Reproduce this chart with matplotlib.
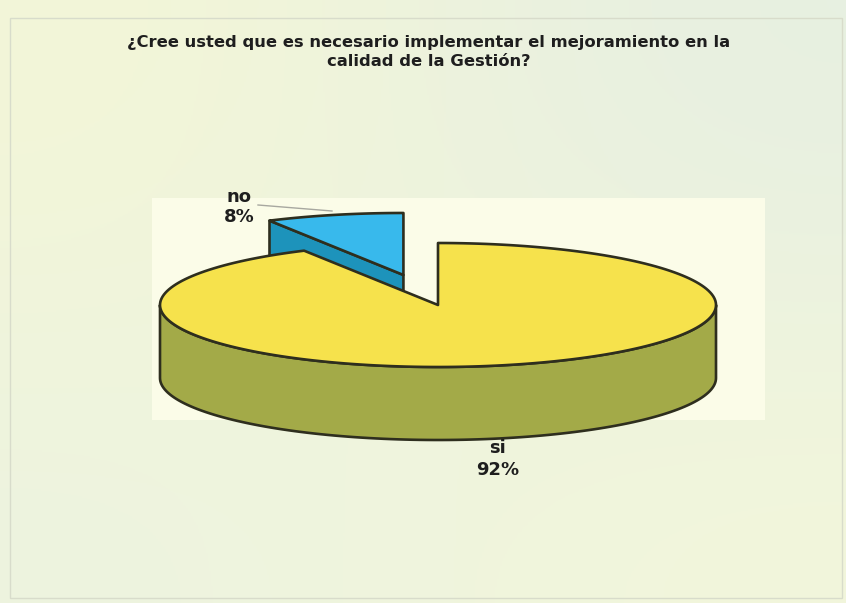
import numpy as np
import matplotlib.pyplot as plt
from matplotlib.patches import Polygon, Rectangle

# ---- DATA ----
labels = ['no', 'si']          # counter-clockwise from 12 o'clock
values = [8, 92]
explode = [0.5, 0.0]
title = ("¿Cree usted que es necesario implementar el mejoramiento en la\n"
         "calidad de la Gestión?")

# ---- STYLE / GEOMETRY (pixels) ----
CX, CY, RX, RY, DEPTH = 438, 305, 278, 62, 73
TOP_COLORS = ['#38b9ec', '#f6e24c']
SIDE_COLORS = ['#1d93bb', '#a3aa48']
EDGE = '#2e2e1e'
LW = 1.9
label_pos = [(239, 207), (498, 459)]

plt.rcParams['font.family'] = ['DejaVu Sans']

fig = plt.figure(figsize=(8.46, 6.03), dpi=100)
ax = fig.add_axes([0, 0, 1, 1])
ax.set_xlim(0, 846)
ax.set_ylim(603, 0)
ax.axis('off')

# background gradient
bg = np.array([[[0.955, 0.965, 0.845], [0.905, 0.94, 0.885]],
               [[0.93, 0.955, 0.875], [0.95, 0.965, 0.86]]])
ax.imshow(bg, extent=[0, 846, 603, 0], interpolation='bicubic', aspect='auto', zorder=0)
ax.add_patch(Rectangle((10, 18), 832, 580, fill=False, edgecolor='#d8dccb', lw=1, zorder=1))

# plot area
ax.add_patch(Rectangle((152, 198), 613, 222, facecolor='#fbfce8', edgecolor='none', zorder=1))


def pt(theta, dx, dy, dz=0.0):
    t = np.radians(theta)
    return CX + dx - RX * np.sin(t), CY + dy - RY * np.cos(t) + dz


# build slices
total = sum(values)
slices = []
start = 0.0
for i, v in enumerate(values):
    span = 360.0 * v / total
    a0, a1 = start, start + span
    mid = np.radians((a0 + a1) / 2)
    dx = -explode[i] * RX * np.sin(mid)
    dy = -explode[i] * RY * np.cos(mid)
    slices.append((i, a0, a1, dx, dy))
    start = a1

# draw back to front
slices.sort(key=lambda s: s[4] - RY * np.cos(np.radians((s[1] + s[2]) / 2)))
z = 2
for i, a0, a1, dx, dy in slices:
    c = (CX + dx, CY + dy)
    # radial faces
    for a, sign in ((a0, -1), (a1, 1)):
        if sign * np.sin(np.radians(a)) > 1e-6:
            p = pt(a, dx, dy)
            face = [c, p, (p[0], p[1] + DEPTH), (c[0], c[1] + DEPTH)]
            ax.add_patch(Polygon(face, closed=True, facecolor=SIDE_COLORS[i],
                                 edgecolor=EDGE, lw=LW, joinstyle='round', zorder=z))
    # outer side (front half only)
    lo, hi = max(a0, 90), min(a1, 270)
    if hi > lo:
        th = np.linspace(lo, hi, 120)
        top = [pt(t, dx, dy) for t in th]
        bot = [pt(t, dx, dy, DEPTH) for t in th[::-1]]
        ax.add_patch(Polygon(top + bot, closed=True, facecolor=SIDE_COLORS[i],
                             edgecolor=EDGE, lw=LW, joinstyle='round', zorder=z))
    # top face
    th = np.linspace(a0, a1, 200)
    poly = [c] + [pt(t, dx, dy) for t in th]
    ax.add_patch(Polygon(poly, closed=True, facecolor=TOP_COLORS[i],
                         edgecolor=EDGE, lw=LW, joinstyle='round', zorder=z + 1))
    z += 2

# labels
spacing = [1.1, 1.3]
for i, (lab, v) in enumerate(zip(labels, values)):
    x, y = label_pos[i]
    ax.text(x, y, f"{lab}\n{v / total * 100:.0f}%", ha='center', va='center',
            fontsize=13, fontweight='bold', color='#1e1e1e', linespacing=spacing[i], zorder=10)

# leader line for the small slice
ax.plot([258, 332], [205, 211], color='#a8a8a0', lw=1, zorder=10)

ax.text(429, 52, title, ha='center', va='center', fontsize=11.8, fontweight='bold',
        color='#1e1e1e', linespacing=1.4, zorder=10)

fig.savefig('out.png', dpi=100)
